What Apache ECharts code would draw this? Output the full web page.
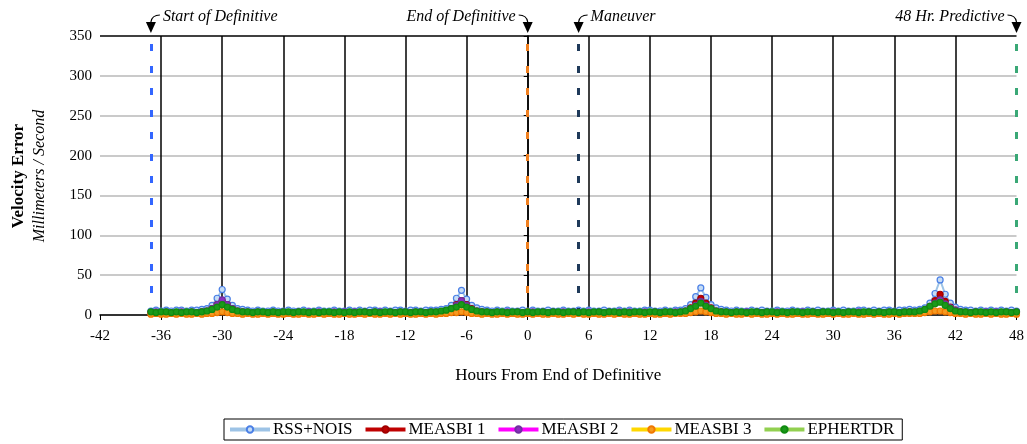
<!DOCTYPE html>
<html>
<head>
<meta charset="utf-8">
<script src="https://cdn.jsdelivr.net/npm/echarts@6/dist/echarts.min.js"></script>
<style>html,body{margin:0;padding:0;background:#fff}#c{width:1027px;height:444px}</style>
</head>
<body>
<div id="c"></div>
<script>
// Hours from end of definitive (sample times, every 0.5 h from -37 to 48)
const hours = [
-37,-36.5,-36,-35.5,-35,-34.5,-34,-33.5,-33,-32.5,
-32,-31.5,-31,-30.5,-30,-29.5,-29,-28.5,-28,-27.5,
-27,-26.5,-26,-25.5,-25,-24.5,-24,-23.5,-23,-22.5,
-22,-21.5,-21,-20.5,-20,-19.5,-19,-18.5,-18,-17.5,
-17,-16.5,-16,-15.5,-15,-14.5,-14,-13.5,-13,-12.5,
-12,-11.5,-11,-10.5,-10,-9.5,-9,-8.5,-8,-7.5,
-7,-6.5,-6,-5.5,-5,-4.5,-4,-3.5,-3,-2.5,
-2,-1.5,-1,-0.5,0,0.5,1,1.5,2,2.5,
3,3.5,4,4.5,5,5.5,6,6.5,7,7.5,
8,8.5,9,9.5,10,10.5,11,11.5,12,12.5,
13,13.5,14,14.5,15,15.5,16,16.5,17,17.5,
18,18.5,19,19.5,20,20.5,21,21.5,22,22.5,
23,23.5,24,24.5,25,25.5,26,26.5,27,27.5,
28,28.5,29,29.5,30,30.5,31,31.5,32,32.5,
33,33.5,34,34.5,35,35.5,36,36.5,37,37.5,
38,38.5,39,39.5,40,40.5,41,41.5,42,42.5,
43,43.5,44,44.5,45,45.5,46,46.5,47,47.5,
48];

const rssNois = [
5,6,5,6,5,6,6,5,6,6,
7,8,12,21,32,20,12,8,7,6,
5,6,5,5,6,5,5,6,5,5,
6,5,5,6,5,5,6,5,5,6,
5,6,5,6,6,5,6,5,6,6,
5,6,6,5,6,6,6,7,8,12,
21,31,20,12,9,7,6,5,6,5,
6,5,5,6,5,6,5,5,6,5,
5,6,5,5,6,5,6,5,5,6,
5,5,6,5,6,5,5,6,6,5,
5,6,5,6,6,8,13,23,34,22,
13,9,7,6,5,6,5,5,6,5,
6,5,5,6,5,5,6,5,5,6,
5,6,5,5,6,5,6,5,5,6,
6,5,6,5,6,6,5,6,6,7,
6,7,9,15,27,44,26,15,10,7,
6,6,5,6,5,6,5,6,5,6,
5];

const measbi1 = [
3,2,3,3,2,3,3,2,3,3,
4,5,8,13,17,13,8,5,4,3,
3,2,3,3,2,3,3,2,3,2,
3,3,2,3,3,2,3,3,2,3,
3,2,3,3,2,3,3,2,3,3,
2,3,3,2,3,3,3,4,5,8,
13,18,13,8,5,4,3,3,2,3,
3,2,3,3,2,3,3,2,3,3,
2,3,3,2,3,3,2,3,3,2,
3,3,2,3,3,2,3,3,2,3,
3,2,3,3,3,5,9,15,21,15,
9,5,4,3,3,2,3,3,2,3,
3,2,3,3,2,3,3,2,3,3,
2,3,3,2,3,3,2,3,3,2,
3,3,2,3,3,2,3,3,3,4,
3,4,6,11,18,26,17,10,6,4,
3,3,2,3,3,2,3,3,2,3,
3];

const measbi2 = [
3,4,3,4,3,3,4,3,4,3,
4,5,8,13,19,13,8,5,4,4,
3,4,3,3,4,3,4,3,3,4,
3,4,3,4,3,3,4,3,4,3,
4,3,4,3,4,4,3,4,3,4,
4,3,4,4,3,4,4,4,5,8,
12,18,12,7,5,4,4,3,4,3,
4,3,4,3,3,4,3,4,3,4,
3,4,3,4,3,3,4,3,4,3,
4,3,4,3,4,3,3,4,3,4,
3,4,3,4,4,5,8,12,17,12,
8,5,4,4,3,4,3,4,3,4,
3,4,3,4,3,3,4,3,4,3,
4,3,4,3,4,3,3,4,3,4,
3,4,3,4,3,4,4,3,4,4,
4,5,6,10,15,19,14,9,6,4,
4,3,4,3,4,3,4,3,4,3,
4];

const measbi3 = [
1,2,1,1,2,1,2,1,1,2,
1,2,2,3,4,3,2,2,1,2,
1,1,2,1,2,1,1,2,1,1,
2,1,1,2,1,2,1,1,2,1,
1,2,1,2,1,1,2,1,2,1,
2,1,1,2,1,2,1,2,2,3,
3,4,3,2,2,1,2,1,1,2,
1,2,1,1,2,1,2,1,1,2,
1,1,2,1,2,1,1,2,1,1,
2,1,2,1,1,2,1,1,2,1,
1,2,1,2,2,2,3,4,5,4,
3,2,2,1,2,1,1,2,1,2,
1,1,2,1,2,1,1,2,1,1,
2,1,1,2,1,2,1,1,2,1,
1,2,1,2,1,1,2,1,2,2,
2,2,3,4,5,5,4,3,2,2,
1,2,1,1,2,1,2,1,1,2,
1];

const ephertdr = [
4,3,4,4,3,4,3,4,4,3,
4,5,7,10,13,10,7,5,4,4,
3,4,4,3,4,3,4,4,3,4,
4,3,4,3,4,4,3,4,3,4,
3,4,4,3,4,3,4,4,3,4,
4,3,4,4,3,4,4,5,6,8,
10,13,10,7,5,4,4,3,4,4,
3,4,4,3,4,3,4,4,3,4,
4,3,4,4,3,4,3,4,4,3,
4,4,3,4,3,4,4,3,4,4,
3,4,4,3,4,5,8,11,15,11,
8,5,4,4,3,4,4,3,4,4,
3,4,4,3,4,3,4,4,3,4,
4,3,4,4,3,4,3,4,4,3,
4,4,3,4,3,4,4,3,4,4,
4,5,7,11,14,16,12,8,5,4,
4,3,4,4,3,4,3,4,4,3,
4];

const seriesNames = ['RSS+NOIS','MEASBI 1','MEASBI 2','MEASBI 3','EPHERTDR'];
const seriesValues = [rssNois, measbi1, measbi2, measbi3, ephertdr];
const lineColors = ['#9dc3e6','#c00000','#ff00ff','#ffd700','#92d050'];
const markerBorders = ['#4a7fe6','#a00000','#7030a0','#f07800','#108a10'];
const markerFills = ['#c5dcf5','#c00000','#8a2fbf','#f59a20','#1a9a1a'];

// Event markers: [hour, label, colour, text side]
const events = [
  [-37, 'Start of Definitive', '#3366ff', 'right'],
  [0, 'End of Definitive', '#f08020', 'left'],
  [5, 'Maneuver', '#1f3a5a', 'right'],
  [48, '48 Hr. Predictive', '#3aa876', 'left']
];

const xTicks = {min: -42, max: 48, interval: 6};
const yTicks = {min: 0, max: 350, interval: 50};

const SERIF = '"Liberation Serif", "DejaVu Serif", serif';
const chart = echarts.init(document.getElementById('c'));

const series = seriesNames.map((name, i) => ({
  name: name,
  type: 'line',
  data: hours.map((h, k) => [h, seriesValues[i][k]]),
  symbol: 'circle',
  symbolSize: 6,
  showAllSymbol: true,
  lineStyle: {color: lineColors[i], width: 2},
  itemStyle: {color: markerFills[i], borderColor: markerBorders[i], borderWidth: 1.2},
  emphasis: {disabled: true},
  animation: false,
  z: 3 + i
}));

series.push({
  name: 'events',
  type: 'line',
  data: [],
  silent: true,
  animation: false,
  z: 20,
  markLine: {
    silent: true,
    symbol: 'none',
    animation: false,
    label: {show: false},
    data: events.map(e => ({xAxis: e[0], lineStyle: {color: e[2], type: [7, 15], width: 3}}))
      .concat([{yAxis: 350, lineStyle: {color: '#000', type: 'solid', width: 1.5}}])
  }
});

chart.setOption({
  animation: false,
  grid: {left: 100, right: 6, top: 36, bottom: 129},
  legend: {
    data: seriesNames,
    top: 419,
    left: 224,
    orient: 'horizontal',
    borderColor: '#000',
    borderWidth: 1,
    padding: [2, 8, 2, 4],
    itemGap: 11,
    itemWidth: 40,
    itemHeight: 8,
    lineStyle: {width: 4},
    textStyle: {fontFamily: SERIF, fontSize: 17, color: '#000', padding: [0, 0, 0, -2]}
  },
  xAxis: {
    type: 'value',
    min: xTicks.min, max: xTicks.max, interval: xTicks.interval,
    name: 'Hours From End of Definitive',
    nameLocation: 'middle',
    nameGap: 52,
    nameTextStyle: {fontFamily: SERIF, fontSize: 17, color: '#000'},
    axisLine: {show: true, onZero: false, lineStyle: {color: '#000', width: 1.5}},
    axisTick: {show: true, length: 5, lineStyle: {color: '#000'}},
    axisLabel: {fontFamily: SERIF, fontSize: 15, color: '#000', margin: 14},
    splitLine: {show: true, showMinLine: false, showMaxLine: false, lineStyle: {color: '#000', width: 1.5}}
  },
  yAxis: {
    type: 'value',
    min: yTicks.min, max: yTicks.max, interval: yTicks.interval,
    axisLine: {show: true, lineStyle: {color: '#000', width: 1.5}},
    axisTick: {show: true, length: 4, lineStyle: {color: '#000'}},
    axisLabel: {fontFamily: SERIF, fontSize: 15, color: '#000', margin: 8},
    splitLine: {show: true, showMaxLine: false, lineStyle: {color: '#b8b8b8', width: 1.5}}
  },
  series: series
});

// Annotations placed through the chart's own scales
const graphics = [];
events.forEach(e => {
  const p = chart.convertToPixel({xAxisIndex: 0, yAxisIndex: 0}, [e[0], 350]);
  const x = p[0], top = p[1];
  graphics.push({
    type: 'polygon', silent: true,
    shape: {points: [[x - 5, top - 14], [x + 5, top - 14], [x, top - 3]]},
    style: {fill: '#000'}
  });
  const dir = e[3] === 'right' ? 1 : -1;
  graphics.push({
    type: 'bezierCurve', silent: true,
    shape: {x1: x + dir * 9, y1: top - 21, cpx1: x + dir * 1, cpy1: top - 21, x2: x, y2: top - 14},
    style: {stroke: '#000', lineWidth: 1.2, fill: null}
  });
  graphics.push({
    type: 'text', silent: true,
    x: x + dir * 12, y: top - 19,
    style: {
      text: e[1], fill: '#000',
      font: 'italic 16px ' + SERIF,
      align: e[3] === 'right' ? 'left' : 'right',
      verticalAlign: 'middle'
    }
  });
});
graphics.push({
  type: 'text', silent: true, x: 19, y: 176, rotation: Math.PI / 2,
  style: {text: 'Velocity Error', fill: '#000', font: 'bold 17px ' + SERIF, align: 'center', verticalAlign: 'middle'}
});
graphics.push({
  type: 'text', silent: true, x: 40, y: 176, rotation: Math.PI / 2,
  style: {text: 'Millimeters / Second', fill: '#000', font: 'italic 16px ' + SERIF, align: 'center', verticalAlign: 'middle'}
});
chart.setOption({graphic: graphics});
</script>
</body>
</html>
